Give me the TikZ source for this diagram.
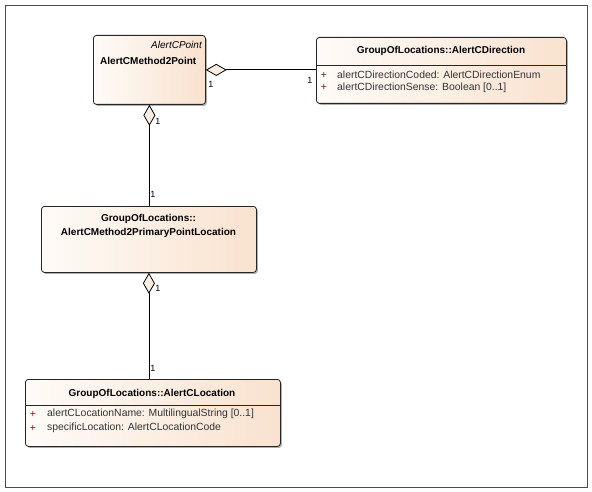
\documentclass[tikz,border=0pt]{standalone}
\usepackage{fontspec}
\setmainfont{Liberation Sans}
\usetikzlibrary{arrows.meta,shadows}

\definecolor{clsleft}{RGB}{254,251,248}
\definecolor{clsright}{RGB}{249,226,207}
\definecolor{plusred}{RGB}{120,20,20}

\tikzset{
  cls/.style={draw=black!85, line width=0.8pt, rounded corners=3pt,
    left color=clsleft, right color=clsright, anchor=north west, inner sep=0pt,
    drop shadow={shadow xshift=1.5pt, shadow yshift=-1.5pt, fill=black!45, opacity=0.7}},
  hdr/.style={font=\fontsize{10}{12}\selectfont\bfseries, inner sep=0pt},
  stereo/.style={font=\fontsize{10}{12}\selectfont\itshape, inner sep=0pt, anchor=east},
  attr/.style={font=\fontsize{10.4}{12}\selectfont, text=black!80, inner sep=0pt, anchor=west},
  plus/.style={font=\fontsize{10.4}{12}\selectfont, text=plusred, inner sep=0pt},
  mult/.style={font=\fontsize{9}{10}\selectfont, inner sep=0pt},
  agg/.style={line width=0.8pt, arrows={Diamond[length=21pt,width=12pt,fill=clsleft!40!clsright]-}}
}

\begin{document}
\begin{tikzpicture}[x=1pt,y=-1pt]
\useasboundingbox (0,0) rectangle (592,492);
\draw[black!70, line width=0.7pt] (5,5) rectangle (587,487);

% classes
\node[cls, minimum width=112pt, minimum height=69pt] (pt) at (93,35) {};
\node[stereo] (ptst) at (202,45) {AlertCPoint};
\node[hdr, anchor=west] (ptnm) at (100,61) {AlertCMethod2Point};

\node[cls, minimum width=250pt, minimum height=66pt] (dir) at (316,37) {};
\node[hdr] (dirnm) at (441,51) {GroupOfLocations::AlertCDirection};
\draw[black!85, line width=0.8pt] (316,65) -- (566,65);
\node[plus] (dirp1) at (324,75) {+}; \node[attr] (dira1) at (337,75) {alertCDirectionCoded: AlertCDirectionEnum};
\node[plus] (dirp2) at (324,88) {+}; \node[attr] (dira2) at (337,88) {alertCDirectionSense: Boolean [0..1]};

\node[cls, minimum width=215pt, minimum height=66pt] (ploc) at (41,206) {};
\node[hdr, font=\fontsize{10}{14}\selectfont\bfseries, align=center] (plocnm) at (148.5,226) {GroupOfLocations::\\AlertCMethod2PrimaryPointLocation};

\node[cls, minimum width=255pt, minimum height=67pt] (loc) at (25,379) {};
\node[hdr] (locnm) at (152,394) {GroupOfLocations::AlertCLocation};
\draw[black!85, line width=0.8pt] (25,405) -- (280,405);
\node[plus] (locp1) at (33,414) {+}; \node[attr] (loca1) at (47,414) {alertCLocationName: MultilingualString [0..1]};
\node[plus] (locp2) at (33,428) {+}; \node[attr] (loca2) at (47,428) {specificLocation: AlertCLocationCode};

% aggregations
\draw[agg] (pt.east) -- (pt.east -| dir.west);
\draw[agg] (pt.south) -- (pt.south |- ploc.north);
\draw[agg] (ploc.south) -- (ploc.south |- loc.north);

\node[mult] (m1) at (211,84) {1};
\node[mult] (m2) at (310,80) {1};
\node[mult] (m3) at (158,121) {1};
\node[mult] (m4) at (153,194) {1};
\node[mult] (m5) at (158,288) {1};
\node[mult] (m6) at (153,368) {1};
\end{tikzpicture}
\end{document}
